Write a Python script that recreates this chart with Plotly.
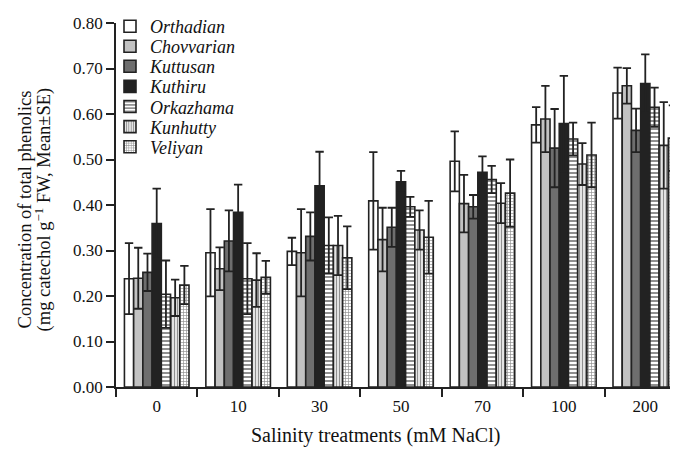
import plotly.graph_objects as go

categories = ["0", "10", "30", "50", "70", "100", "200"]

orthadian = [0.238, 0.295, 0.298, 0.409, 0.496, 0.576, 0.646]
orthadian_se = [0.078, 0.096, 0.030, 0.107, 0.066, 0.039, 0.056]
chovvarian = [0.239, 0.260, 0.295, 0.324, 0.403, 0.589, 0.662]
chovvarian_se = [0.067, 0.047, 0.096, 0.070, 0.063, 0.073, 0.039]
kuttusan = [0.252, 0.321, 0.331, 0.351, 0.396, 0.525, 0.564]
kuttusan_se = [0.041, 0.067, 0.053, 0.043, 0.026, 0.086, 0.048]
kuthiru = [0.359, 0.384, 0.442, 0.451, 0.472, 0.579, 0.667]
kuthiru_se = [0.077, 0.061, 0.075, 0.024, 0.035, 0.105, 0.064]
orkazhama = [0.204, 0.238, 0.311, 0.396, 0.456, 0.545, 0.615]
orkazhama_se = [0.074, 0.078, 0.062, 0.022, 0.030, 0.036, 0.043]
kunhutty = [0.196, 0.235, 0.311, 0.345, 0.404, 0.490, 0.531]
kunhutty_se = [0.040, 0.059, 0.065, 0.043, 0.044, 0.046, 0.095]
veliyan = [0.224, 0.241, 0.284, 0.329, 0.426, 0.510, 0.547]
veliyan_se = [0.042, 0.036, 0.069, 0.080, 0.074, 0.071, 0.072]

y_ticks = [0.0, 0.1, 0.2, 0.3, 0.4, 0.5, 0.6, 0.7, 0.8]

x_title = "Salinity treatments (mM NaCl)"
y_title_1 = "Concentration of total phenolics"
y_title_2 = "(mg catechol g<sup>−1</sup> FW, Mean±SE)"

DARK = "#222222"
FONT = "Liberation Serif"

series = [
    ("Orthadian", orthadian, orthadian_se, dict(color="white")),
    ("Chovvarian", chovvarian, chovvarian_se, dict(color="#c2c2c2")),
    ("Kuttusan", kuttusan, kuttusan_se, dict(color="#6e6e6e")),
    ("Kuthiru", kuthiru, kuthiru_se, dict(color=DARK)),
    ("Orkazhama", orkazhama, orkazhama_se,
     dict(color="white", pattern=dict(shape="-", fgcolor=DARK, bgcolor="white", size=4, solidity=0.5))),
    ("Kunhutty", kunhutty, kunhutty_se,
     dict(color="white", pattern=dict(shape="|", fgcolor=DARK, bgcolor="white", size=3, solidity=0.5))),
    ("Veliyan", veliyan, veliyan_se,
     dict(color="white", pattern=dict(shape="+", fgcolor=DARK, bgcolor="white", size=3, solidity=0.4))),
]

# plot area in window pixels (page body adds an 8px offset)
PL, PR, PT, PB = 116, 686, 14, 387
PW, PH = PR - PL, PB - PT


def px_x(x):
    return (x - PL) / PW


def px_y(y):
    return (PB - y) / PH


fig = go.Figure()
layout_legends = {}
for i, (name, vals, se, mk) in enumerate(series):
    marker = dict(mk)
    marker["line"] = dict(color=DARK, width=1.6)
    lname = "legend" if i == 0 else f"legend{i + 1}"
    fig.add_trace(go.Bar(
        x=categories, y=vals, name=name, marker=marker, legend=lname,
        error_y=dict(type="data", array=se, visible=True, color=DARK, thickness=1.8, width=4.2),
    ))
    layout_legends[lname] = dict(
        x=px_x(110), y=px_y(17.5 + 20.6 * i), xanchor="left", yanchor="middle",
        font=dict(family=FONT, size=18, style="italic", color="#111111"),
        bgcolor="rgba(0,0,0,0)",
    )

fig.update_layout(
    width=678, height=451,
    margin=dict(l=PL - 8, r=0, t=PT - 8, b=451 + 8 - PB),
    paper_bgcolor="white", plot_bgcolor="white",
    barmode="group", bargap=0.207, bargroupgap=0,
    font=dict(family=FONT, size=17, color="#111111"),
    showlegend=True,
    **layout_legends,
)
fig.update_xaxes(
    type="category", range=[-0.5, 6.5], tickson="boundaries",
    showline=True, linecolor=DARK, linewidth=1.6,
    ticks="outside", ticklen=8, tickwidth=1.6, tickcolor=DARK,
    showgrid=False, zeroline=False, automargin=False,
    tickfont=dict(size=17), ticklabelstandoff=3,
)
fig.update_yaxes(
    range=[0, 0.8], tickvals=y_ticks, tickformat=".2f",
    showline=True, linecolor=DARK, linewidth=1.6,
    ticks="outside", ticklen=8, tickwidth=1.6, tickcolor=DARK,
    showgrid=False, zeroline=False, automargin=False,
    tickfont=dict(size=17),
)

fig.add_annotation(text=x_title, xref="paper", yref="paper", x=px_x(375), y=px_y(437),
                   xanchor="center", yanchor="middle", showarrow=False,
                   font=dict(family=FONT, size=20, color="#111111"))
fig.add_annotation(text=y_title_1, xref="paper", yref="paper", x=px_x(25), y=px_y(205),
                   xanchor="center", yanchor="middle", showarrow=False, textangle=-90,
                   font=dict(family=FONT, size=18.5, color="#111111"))
fig.add_annotation(text=y_title_2, xref="paper", yref="paper", x=px_x(43), y=px_y(205),
                   xanchor="center", yanchor="middle", showarrow=False, textangle=-90,
                   font=dict(family=FONT, size=18.5, color="#111111"))

fig.write_html("out.html")
